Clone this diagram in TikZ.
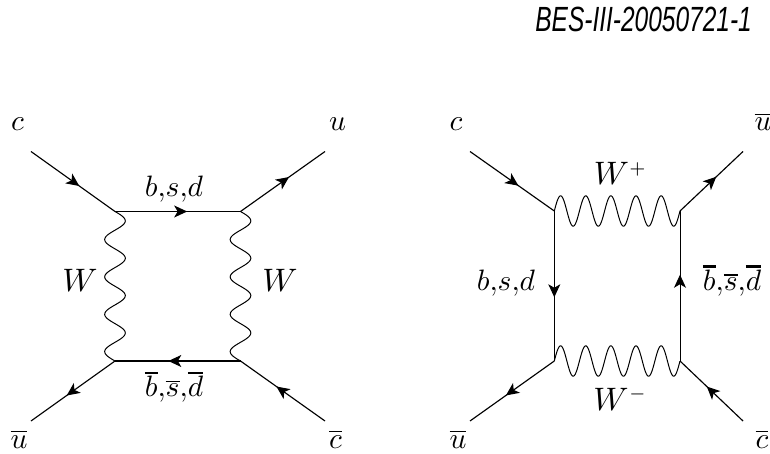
\documentclass[tikz,border=0pt]{standalone}
\usepackage{fontspec}
\usetikzlibrary{arrows.meta,decorations.markings}
\newfontfamily\hdrfont{Liberation Sans}
\newcommand{\tbar}[2][0.8pt]{\vbox{\hrule height #1 \kern 0.6pt\hbox{$#2$}}}
\newcommand{\wavedown}[2]{\draw[waveline,shift={(#1)}] plot[domain=0:4,samples=140,smooth] ({10.3*sin(\x*360)},{\x*#2/4});}
\newcommand{\waveright}[2]{\draw[waveline,shift={(#1)}] plot[domain=0:5,samples=170,smooth] ({\x*#2/5},{-15.2*sin(\x*360)});}
\tikzset{
  x=1pt,y=-1pt,
  fermion/.style={line width=1.15pt,postaction={decorate},decoration={markings,mark=at position 0.575 with {\arrow{Stealth[length=13pt,width=12pt,inset=3.5pt]}}}},
  thinfermion/.style={fermion,line width=0.95pt},
  waveline/.style={line width=1pt},
  lbl/.style={scale=2.95,inner sep=0pt,anchor=base},
  wlbl/.style={scale=3.25,inner sep=0pt,anchor=base},
}
\begin{document}
\begin{tikzpicture}
\useasboundingbox (0,0) rectangle (770,454);
\node[anchor=base east,inner sep=0pt,xscale=.70] (title) at (752,32) {\hdrfont\itshape\fontsize{35}{38}\selectfont BES-III-20050721-1};
% left diagram
\coordinate (La) at (31,151.5);
\coordinate (Lb) at (325,151.5);
\coordinate (Lc) at (31,421);
\coordinate (Ld) at (325,421);
\coordinate (L1) at (115,211.5);
\coordinate (L2) at (240.5,211.5);
\coordinate (L3) at (115,361);
\coordinate (L4) at (240.5,361);
\draw[fermion] (La) -- (L1);
\draw[fermion] (L2) -- (Lb);
\draw[fermion] (L3) -- (Lc);
\draw[fermion] (Ld) -- (L4);
\draw[fermion] (L1) -- (L2);
\draw[fermion] (L4) -- (L3);
\wavedown{L1}{149.5}
\wavedown{L2}{149.5}
\node[lbl] (t1) at (17.5,131) {$c$};
\node[lbl] (t2) at (337.5,131) {$u$};
\node[lbl] (t3) at (19,448) {$\overline{u}$};
\node[lbl] (t4) at (335.5,448) {$\overline{c}$};
\node[lbl] (t5) at (174,196.7) {$b{,}s{,}d$};
\node[lbl] (t6) at (174,396.7) {\tbar{b}${,}$\tbar[0.45pt]{s}${,}$\tbar{d}};
\node[wlbl] (t7) at (80,291) {$W$};
\node[wlbl] (t8) at (280,291) {$W$};
% right diagram
\coordinate (Ra) at (470,151.5);
\coordinate (Rb) at (743,151.5);
\coordinate (Rc) at (470,421);
\coordinate (Rd) at (743,421);
\coordinate (R1) at (554.3,211);
\coordinate (R2) at (680,211);
\coordinate (R3) at (554.3,361);
\coordinate (R4) at (680,361);
\draw[fermion] (Ra) -- (R1);
\draw[fermion] (R2) -- (Rb);
\draw[fermion] (R3) -- (Rc);
\draw[fermion] (Rd) -- (R4);
\draw[thinfermion] (R1) -- (R3);
\draw[thinfermion] (R4) -- (R2);
\waveright{R1}{125.7}
\waveright{R3}{125.7}
\node[lbl] (r1) at (456,131) {$c$};
\node[lbl] (r2) at (763,131) {$\overline{u}$};
\node[lbl] (r3) at (458,448) {$\overline{u}$};
\node[lbl] (r4) at (762,448) {$\overline{c}$};
\node[lbl] (r5) at (506,290) {$b{,}s{,}d$};
\node[lbl] (r6) at (732,290) {\tbar{b}${,}$\tbar[0.45pt]{s}${,}$\tbar{d}};
\node[wlbl] (r7) at (620.7,185) {$W^{\scriptscriptstyle +}$};
\node[wlbl] (r8) at (620.7,410.7) {$W^{\scriptscriptstyle -}$};
\end{tikzpicture}
\end{document}
